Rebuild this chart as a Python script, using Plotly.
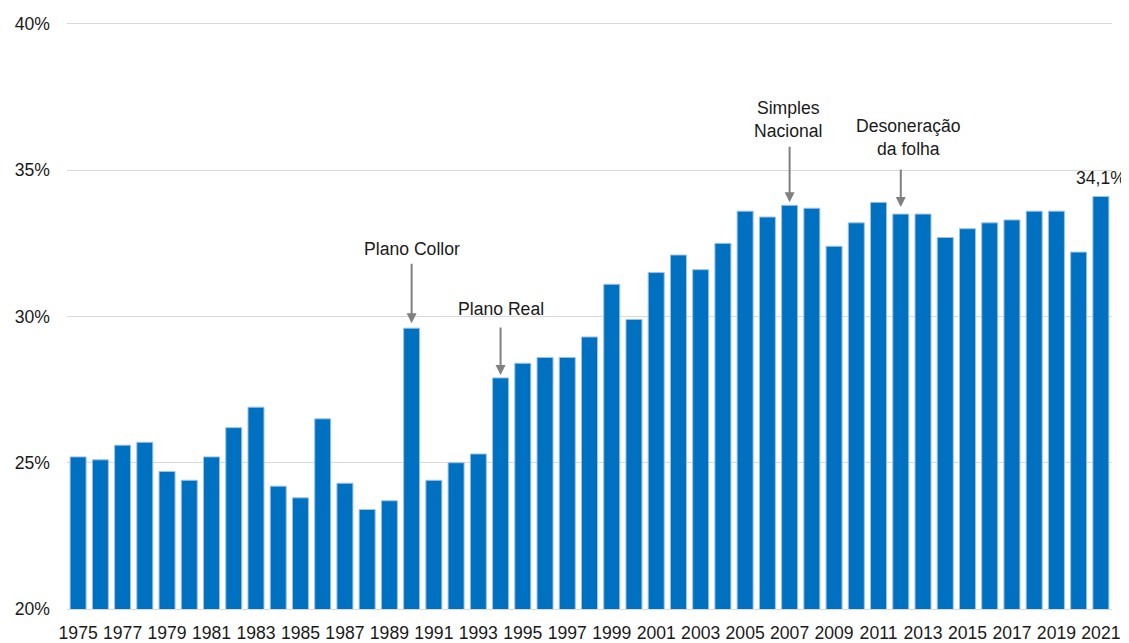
import plotly.graph_objects as go

# carga tributaria bruta (% do PIB), 1975-2021
anos = [str(a) for a in range(1975, 2022)]
carga = [25.2, 25.1, 25.6, 25.7, 24.7, 24.4, 25.2, 26.2, 26.9, 24.2,
         23.8, 26.5, 24.3, 23.4, 23.7, 29.6, 24.4, 25.0, 25.3, 27.9,
         28.4, 28.6, 28.6, 29.3, 31.1, 29.9, 31.5, 32.1, 31.6, 32.5,
         33.6, 33.4, 33.8, 33.7, 32.4, 33.2, 33.9, 33.5, 33.5, 32.7,
         33.0, 33.2, 33.3, 33.6, 33.6, 32.2, 34.1]
tick_anos = [str(a) for a in range(1975, 2022, 2)]
tick_y = [20, 25, 30, 35, 40]
tick_y_txt = [f"{v}%" for v in tick_y]

# eventos marcados com seta: (ano, texto, ay da seta, standoff, xshift, yshift do texto)
eventos = [
    ("1990", "Plano Collor", -66, 5, 0, 79),
    ("1994", "Plano Real", -52, 3, 0, 69),
    ("2007", "Simples<br>Nacional", -60, 3, -2, 86),
    ("2012", "Desoneração<br>da folha", -46, 7, 8, 77),
]

fonte = "Liberation Sans, Arial, sans-serif"
cor_texto = "#1a1a1a"
tam = 17.6

fig = go.Figure()
fig.add_trace(go.Bar(
    x=anos,
    y=carga,
    marker=dict(color="#0070C0", line=dict(color="#9DC3E6", width=1)),
    hoverinfo="x+y",
))

anotacoes = []
for ano, texto, ay, standoff, xs, ys in eventos:
    i = anos.index(ano)  # posicao na categoria (string numerica seria lida como indice)
    valor = carga[i]
    # seta
    anotacoes.append(dict(
        x=i, y=valor, text="", showarrow=True,
        ax=0, ay=ay, standoff=standoff,
        arrowhead=2, arrowsize=1, arrowwidth=2, arrowcolor="#808080",
    ))
    # texto
    anotacoes.append(dict(
        x=i, y=valor, text=texto, showarrow=False,
        xshift=xs, yshift=ys, yanchor="middle",
        font=dict(family=fonte, size=tam, color=cor_texto),
    ))

# rotulo do ultimo ano
anotacoes.append(dict(
    x=len(anos) - 1, y=carga[-1], text="34,1%", showarrow=False,
    yshift=19, yanchor="middle",
    font=dict(family=fonte, size=tam, color=cor_texto),
))

# a pagina tem margem de 8px no body, por isso l/t menores
fig.update_layout(
    width=1129,
    height=643,
    margin=dict(l=59, r=25, t=13, b=42),
    plot_bgcolor="white",
    paper_bgcolor="white",
    bargap=0.28,
    showlegend=False,
    font=dict(family=fonte, size=tam, color=cor_texto),
    annotations=anotacoes,
    xaxis=dict(
        type="category",
        range=[-0.5, len(anos) - 0.5],
        tickmode="array",
        tickvals=tick_anos,
        ticktext=tick_anos,
        tickangle=0,
        tickfont=dict(size=tam),
        showgrid=False,
        showline=True,
        linecolor="#d9d9d9",
        ticks="",
        ticklabelstandoff=8,
        automargin=False,
    ),
    yaxis=dict(
        range=[20, 40.1],
        tickmode="array",
        tickvals=tick_y,
        ticktext=tick_y_txt,
        showgrid=True,
        gridcolor="#d9d9d9",
        gridwidth=1,
        zeroline=False,
        tickfont=dict(size=tam),
        ticks="",
        ticklabelstandoff=16,
        automargin=False,
    ),
)

fig.write_html("out.html")
